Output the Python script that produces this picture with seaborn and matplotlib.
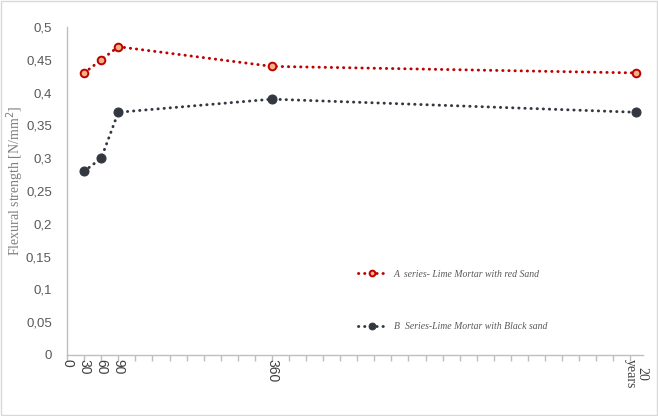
import seaborn as sns
import matplotlib.pyplot as plt
import pandas as pd
from matplotlib.patches import Rectangle

# --- data ---
x_days = [30, 60, 90, 360, 1000]          # last point = "20 years"
series_a = [0.43, 0.45, 0.47, 0.44, 0.43]  # red sand
series_b = [0.28, 0.30, 0.37, 0.39, 0.37]  # black sand
label_a = "A  series- Lime Mortar with red Sand"
label_b = "B  Series-Lime Mortar with Black sand"
x_ticks = list(range(0, 1012, 30))
x_ticklabels = {0: "0", 30: "30", 60: "60", 90: "90", 360: "360", 1000: "20\nyears"}
y_ticks = [i * 0.05 for i in range(11)]

sns.set_theme(style="white")
plt.rcParams['font.family'] = ['Liberation Sans', 'DejaVu Sans']

fig = plt.figure(figsize=(6.58, 4.16), dpi=100)
ax = fig.add_axes([0.102, 0.147, 0.875, 0.788])
fig.patches.append(Rectangle((0.002, 0.002), 0.996, 0.996, transform=fig.transFigure,
                             fill=False, edgecolor='#d9d9d9', linewidth=1))

df_a = pd.DataFrame({'day': x_days, 'strength': series_a})
df_b = pd.DataFrame({'day': x_days, 'strength': series_b})

dots = (0, (0.1, 2.0))
sns.lineplot(data=df_a, x='day', y='strength', ax=ax, color='#C00000',
             linestyle=dots, linewidth=2.1, dash_capstyle='round',
             marker='o', markersize=5.5, markerfacecolor='#F4B183',
             markeredgecolor='#C00000', markeredgewidth=1.4, label=label_a)
sns.lineplot(data=df_b, x='day', y='strength', ax=ax, color='#333840',
             linestyle=dots, linewidth=2.1, dash_capstyle='round',
             marker='o', markersize=6.5, markerfacecolor='#333840',
             markeredgecolor='#333840', label=label_b)

ax.set_xlim(0, 1012)
ax.set_ylim(0, 0.5)
ax.set_yticks(y_ticks)
ax.set_yticklabels([("%g" % round(v, 2)).replace('.', ',') for v in y_ticks],
                   fontsize=9.5, color='#595959')
ax.set_xticks(x_ticks)
ax.set_xticklabels([""] * len(x_ticks))
for xv, txt in x_ticklabels.items():
    ax.text(xv, -0.012, txt, rotation=-90, ha='center', va='top', fontsize=10,
            color='#404040', transform=ax.get_xaxis_transform(),
            family='Liberation Serif' if 'years' in txt else 'Liberation Sans',
            linespacing=0.9)
ax.tick_params(axis='x', bottom=True, length=4, color='#bfbfbf', width=1)
ax.tick_params(axis='y', left=False, length=0, pad=11)

for side in ['top', 'right']:
    ax.spines[side].set_visible(False)
for side in ['left', 'bottom']:
    ax.spines[side].set_color('#bfbfbf')
    ax.spines[side].set_linewidth(1)

ax.set_xlabel("")
ax.set_ylabel("Flexural strength [N/mm$^2$]", family='Liberation Serif',
              fontsize=10, color='#7f7f7f')
ax.yaxis.set_label_coords(-0.071, 0.53)

leg = ax.legend(loc='lower left', bbox_to_anchor=(0.49, 0.045), frameon=False,
                labelspacing=4.5, handlelength=2.8, handletextpad=0.9,
                markerscale=0.75,
                prop={'family': 'Liberation Serif', 'style': 'italic', 'size': 7})
for t in leg.get_texts():
    t.set_color('#595959')

fig.savefig('out.png', dpi=100)
